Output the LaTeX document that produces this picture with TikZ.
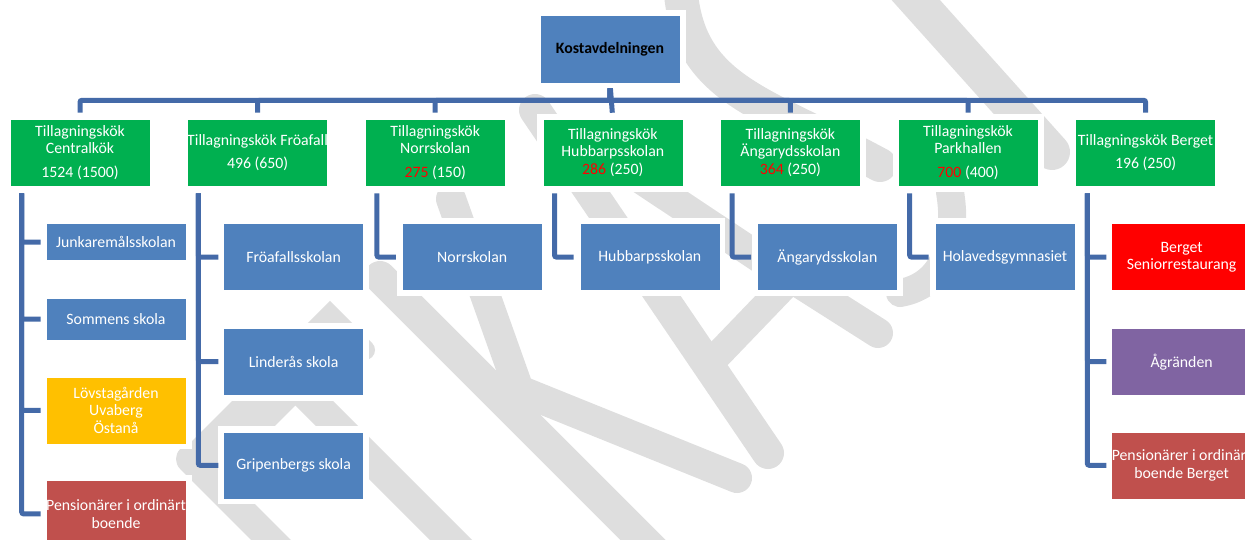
\documentclass[tikz,border=0pt]{standalone}
\usepackage{fontspec}
\setmainfont{Carlito}
\usetikzlibrary{positioning}
\definecolor{boxblue}{HTML}{4F81BD}
\definecolor{boxgreen}{HTML}{00B050}
\definecolor{boxyellow}{HTML}{FFC000}
\definecolor{boxrose}{HTML}{C0504D}
\definecolor{boxred}{HTML}{FF0000}
\definecolor{boxpurple}{HTML}{8064A2}
\definecolor{linkblue}{RGB}{68,106,168}
\definecolor{numred}{HTML}{FF0000}
\definecolor{wmgray}{HTML}{DEDEDE}
\newcommand{\fullline}[1]{\makebox[140pt]{#1}}
\begin{document}
\begin{tikzpicture}[x=1pt,y=-1pt,
   box/.style={rectangle, inner sep=0pt, text width=140pt, minimum height=67pt,
      align=flush center, text=white, font=\fontsize{15.8}{17.5}\selectfont,
      preaction={draw=white, line width=11pt}, draw=white, line width=0.6pt},
   kok/.style={box, fill=boxgreen},
   skola/.style={box, fill=boxblue},
   conn/.style={draw=linkblue, line width=5pt, rounded corners=2pt},
   wm/.style={draw=wmgray, line cap=round, line join=round}]
   \useasboundingbox (0,0) rectangle (1245,539);

   % watermark in the background
   \draw[wm, line width=32pt] (380,277) -- (672,569);
   \draw[wm, line width=30pt, line join=miter] (451,199) -- (519,390) -- (737,478);
   \draw[wm, line width=30pt, line cap=butt] (282,371) -- (480,569);
   \draw[wm, line width=48pt, line cap=butt] (305,362) -- (205,462);
   \draw[wm, line width=28pt] (190,459) -- (290,559);
   \draw[wm, line width=20pt, line join=miter] (295,350) -- (330,315) -- (365,350);
   \draw[wm, line width=32pt] (535,110) -- (768,453);
   \draw[wm, line width=28pt] (716,357) -- (790,280);
   \draw[wm, line width=30pt] (620,165) -- (760,258) -- (878,333);
   \draw[wm, line width=36pt] (905,-12) -- (1052,152);
   \draw[wm, line width=34pt] (680,-20) .. controls (684,90) and (760,100) .. (880,165);
   \draw[wm, line width=28pt] (950,192) .. controls (958,240) and (945,285) .. (900,293);

   % top
   \node[box, fill=boxblue, text=black, minimum height=68pt] (k0) at (610,49)
      {\textbf{Kostavdelningen}};

   % tillagningskok
   \node[kok] (t1) at (80,152.5) {Tillagningskök\\Centralkök\\[6.5pt]1524 (1500)};
   \node[kok, right=37pt of t1] (t2) {\fullline{Tillagningskök Fröafall}\\[5.5pt]496 (650)};
   \node[kok, right=37pt of t2] (t3)
      {Tillagningskök\\Norrskolan\\[6.5pt]\textcolor{numred}{275} (150)};
   \node[kok, right=37pt of t3] (t4)
      {Tillagningskök\\Hubbarpsskolan\\\textcolor{numred}{286} (250)};
   \node[kok, right=37pt of t4] (t5)
      {Tillagningskök\\Ängarydsskolan\\\textcolor{numred}{364} (250)};
   \node[kok, right=37pt of t5] (t6)
      {Tillagningskök\\Parkhallen\\[6.5pt]\textcolor{numred}{700} (400)};
   \node[kok, right=37pt of t6] (t7) {\fullline{Tillagningskök Berget}\\[5.5pt]196 (250)};

   % Centralkok
   \node[skola, minimum height=37pt, below right=37pt and 36pt of t1.south west] (s11)
      {Junkaremålsskolan};
   \node[skola, minimum height=42pt, below=37pt of s11] (s12) {Sommens skola};
   \node[skola, fill=boxyellow, below=36pt of s12] (s13) {Lövstagården\\Uvaberg\\Östanå};
   \node[skola, fill=boxrose, below=36pt of s13] (s14)
      {\fullline{Pensionärer i ordinärt}\\boende};

   % Froafall
   \node[skola, below right=37pt and 36pt of t2.south west] (s21) {Fröafallsskolan};
   \node[skola, below=37pt of s21] (s22) {Linderås skola};
   \node[skola, below=36pt of s22] (s23) {Gripenbergs skola};

   % one school each
   \node[skola, below right=37pt and 37pt of t3.south west] (s31) {Norrskolan};
   \node[skola, below right=37pt and 37pt of t4.south west] (s41) {Hubbarpsskolan};
   \node[skola, below right=37pt and 37pt of t5.south west] (s51) {Ängarydsskolan};
   \node[skola, below right=37pt and 37pt of t6.south west] (s61) {Holavedsgymnasiet};

   % Berget
   \node[skola, fill=boxred, below right=37pt and 36pt of t7.south west] (s71)
      {Berget\\Seniorrestaurang};
   \node[skola, fill=boxpurple, below=37pt of s71] (s72) {Ågränden};
   \node[skola, fill=boxrose, below=36pt of s72] (s73)
      {\fullline{Pensionärer i ordinärt}\\boende Berget};

   % connectors from the top
   \draw[conn, shorten <=5pt, shorten >=6pt] (k0.south) -- ++(0,17) -| (t1.north);
   \draw[conn, shorten <=5pt, shorten >=6pt] (k0.south) -- ++(0,17) -| (t2.north);
   \draw[conn, shorten <=5pt, shorten >=6pt] (k0.south) -- ++(0,17) -| (t3.north);
   \draw[conn, shorten <=5pt, shorten >=6pt] (k0.south) -- (t4.north);
   \draw[conn, shorten <=5pt, shorten >=6pt] (k0.south) -- ++(0,17) -| (t5.north);
   \draw[conn, shorten <=5pt, shorten >=6pt] (k0.south) -- ++(0,17) -| (t6.north);
   \draw[conn, shorten <=5pt, shorten >=6pt] (k0.south) -- ++(0,17) -| (t7.north);

   % connectors to the schools
   \draw[conn, shorten <=7pt, shorten >=5pt] ([xshift=12pt]t1.south west) |- (s11.west);
   \draw[conn, shorten <=7pt, shorten >=5pt] ([xshift=12pt]t1.south west) |- (s12.west);
   \draw[conn, shorten <=7pt, shorten >=5pt] ([xshift=12pt]t1.south west) |- (s13.west);
   \draw[conn, shorten <=7pt, shorten >=5pt] ([xshift=12pt]t1.south west) |- (s14.west);
   \draw[conn, shorten <=7pt, shorten >=5pt] ([xshift=11pt]t2.south west) |- (s21.west);
   \draw[conn, shorten <=7pt, shorten >=5pt] ([xshift=11pt]t2.south west) |- (s22.west);
   \draw[conn, shorten <=7pt, shorten >=5pt] ([xshift=11pt]t2.south west) |- (s23.west);
   \draw[conn, shorten <=7pt, shorten >=6pt] ([xshift=12pt]t3.south west) |- (s31.west);
   \draw[conn, shorten <=7pt, shorten >=6pt] ([xshift=12pt]t4.south west) |- (s41.west);
   \draw[conn, shorten <=7pt, shorten >=6pt] ([xshift=12pt]t5.south west) |- (s51.west);
   \draw[conn, shorten <=7pt, shorten >=6pt] ([xshift=12pt]t6.south west) |- (s61.west);
   \draw[conn, shorten <=7pt, shorten >=5pt] ([xshift=12pt]t7.south west) |- (s71.west);
   \draw[conn, shorten <=7pt, shorten >=5pt] ([xshift=12pt]t7.south west) |- (s72.west);
   \draw[conn, shorten <=7pt, shorten >=5pt] ([xshift=12pt]t7.south west) |- (s73.west);
\end{tikzpicture}
\end{document}
